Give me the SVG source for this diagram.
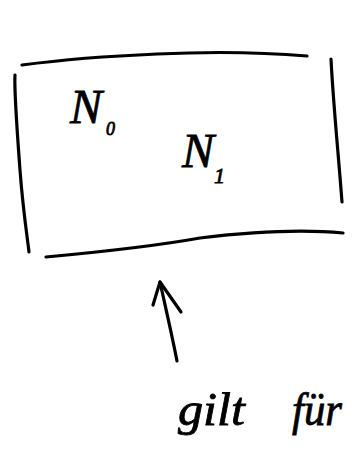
<svg xmlns="http://www.w3.org/2000/svg" width="360" height="465" viewBox="0 0 360 465">
<style>
.ink{fill:none;stroke:#000;stroke-width:3.2;stroke-linecap:round;stroke-linejoin:round}
.hand{font-family:"Liberation Serif",serif;font-style:italic;fill:#000;stroke:#000;stroke-width:0.8}
</style>
<rect width="360" height="465" fill="#fff"/>
<g id="box">
<path class="ink" d="M22,65 C60,60 110,56 157,54 C200,52 260,52 307,56"/>
<path class="ink" d="M15,75 C14,90 17,130 20,170 C23,210 27,235 29,252"/>
<path class="ink" d="M331,59 C333,100 338,150 342,202"/>
<path class="ink" d="M46,257 C100,252 150,247 200,238 C250,232 300,229 343,233"/>
<text class="hand" x="70" y="123" font-size="48">N</text>
<text class="hand" x="106" y="135" font-size="18">0</text>
<text class="hand" x="214" y="183" font-size="22">1</text>
<text class="hand" x="182" y="167" font-size="48">N</text>
</g>
<g id="connectors">
<path class="ink" d="M177,361 C172,335 165,305 160,282"/>
<path class="ink" d="M153,305 L160,282 L181,312"/>
</g>
<g id="label">
<text class="hand" x="178" y="425" font-size="46" textLength="67" lengthAdjust="spacingAndGlyphs">gilt</text>
<text class="hand" x="292" y="425" font-size="46" textLength="50" lengthAdjust="spacingAndGlyphs">für</text>
</g>
</svg>
